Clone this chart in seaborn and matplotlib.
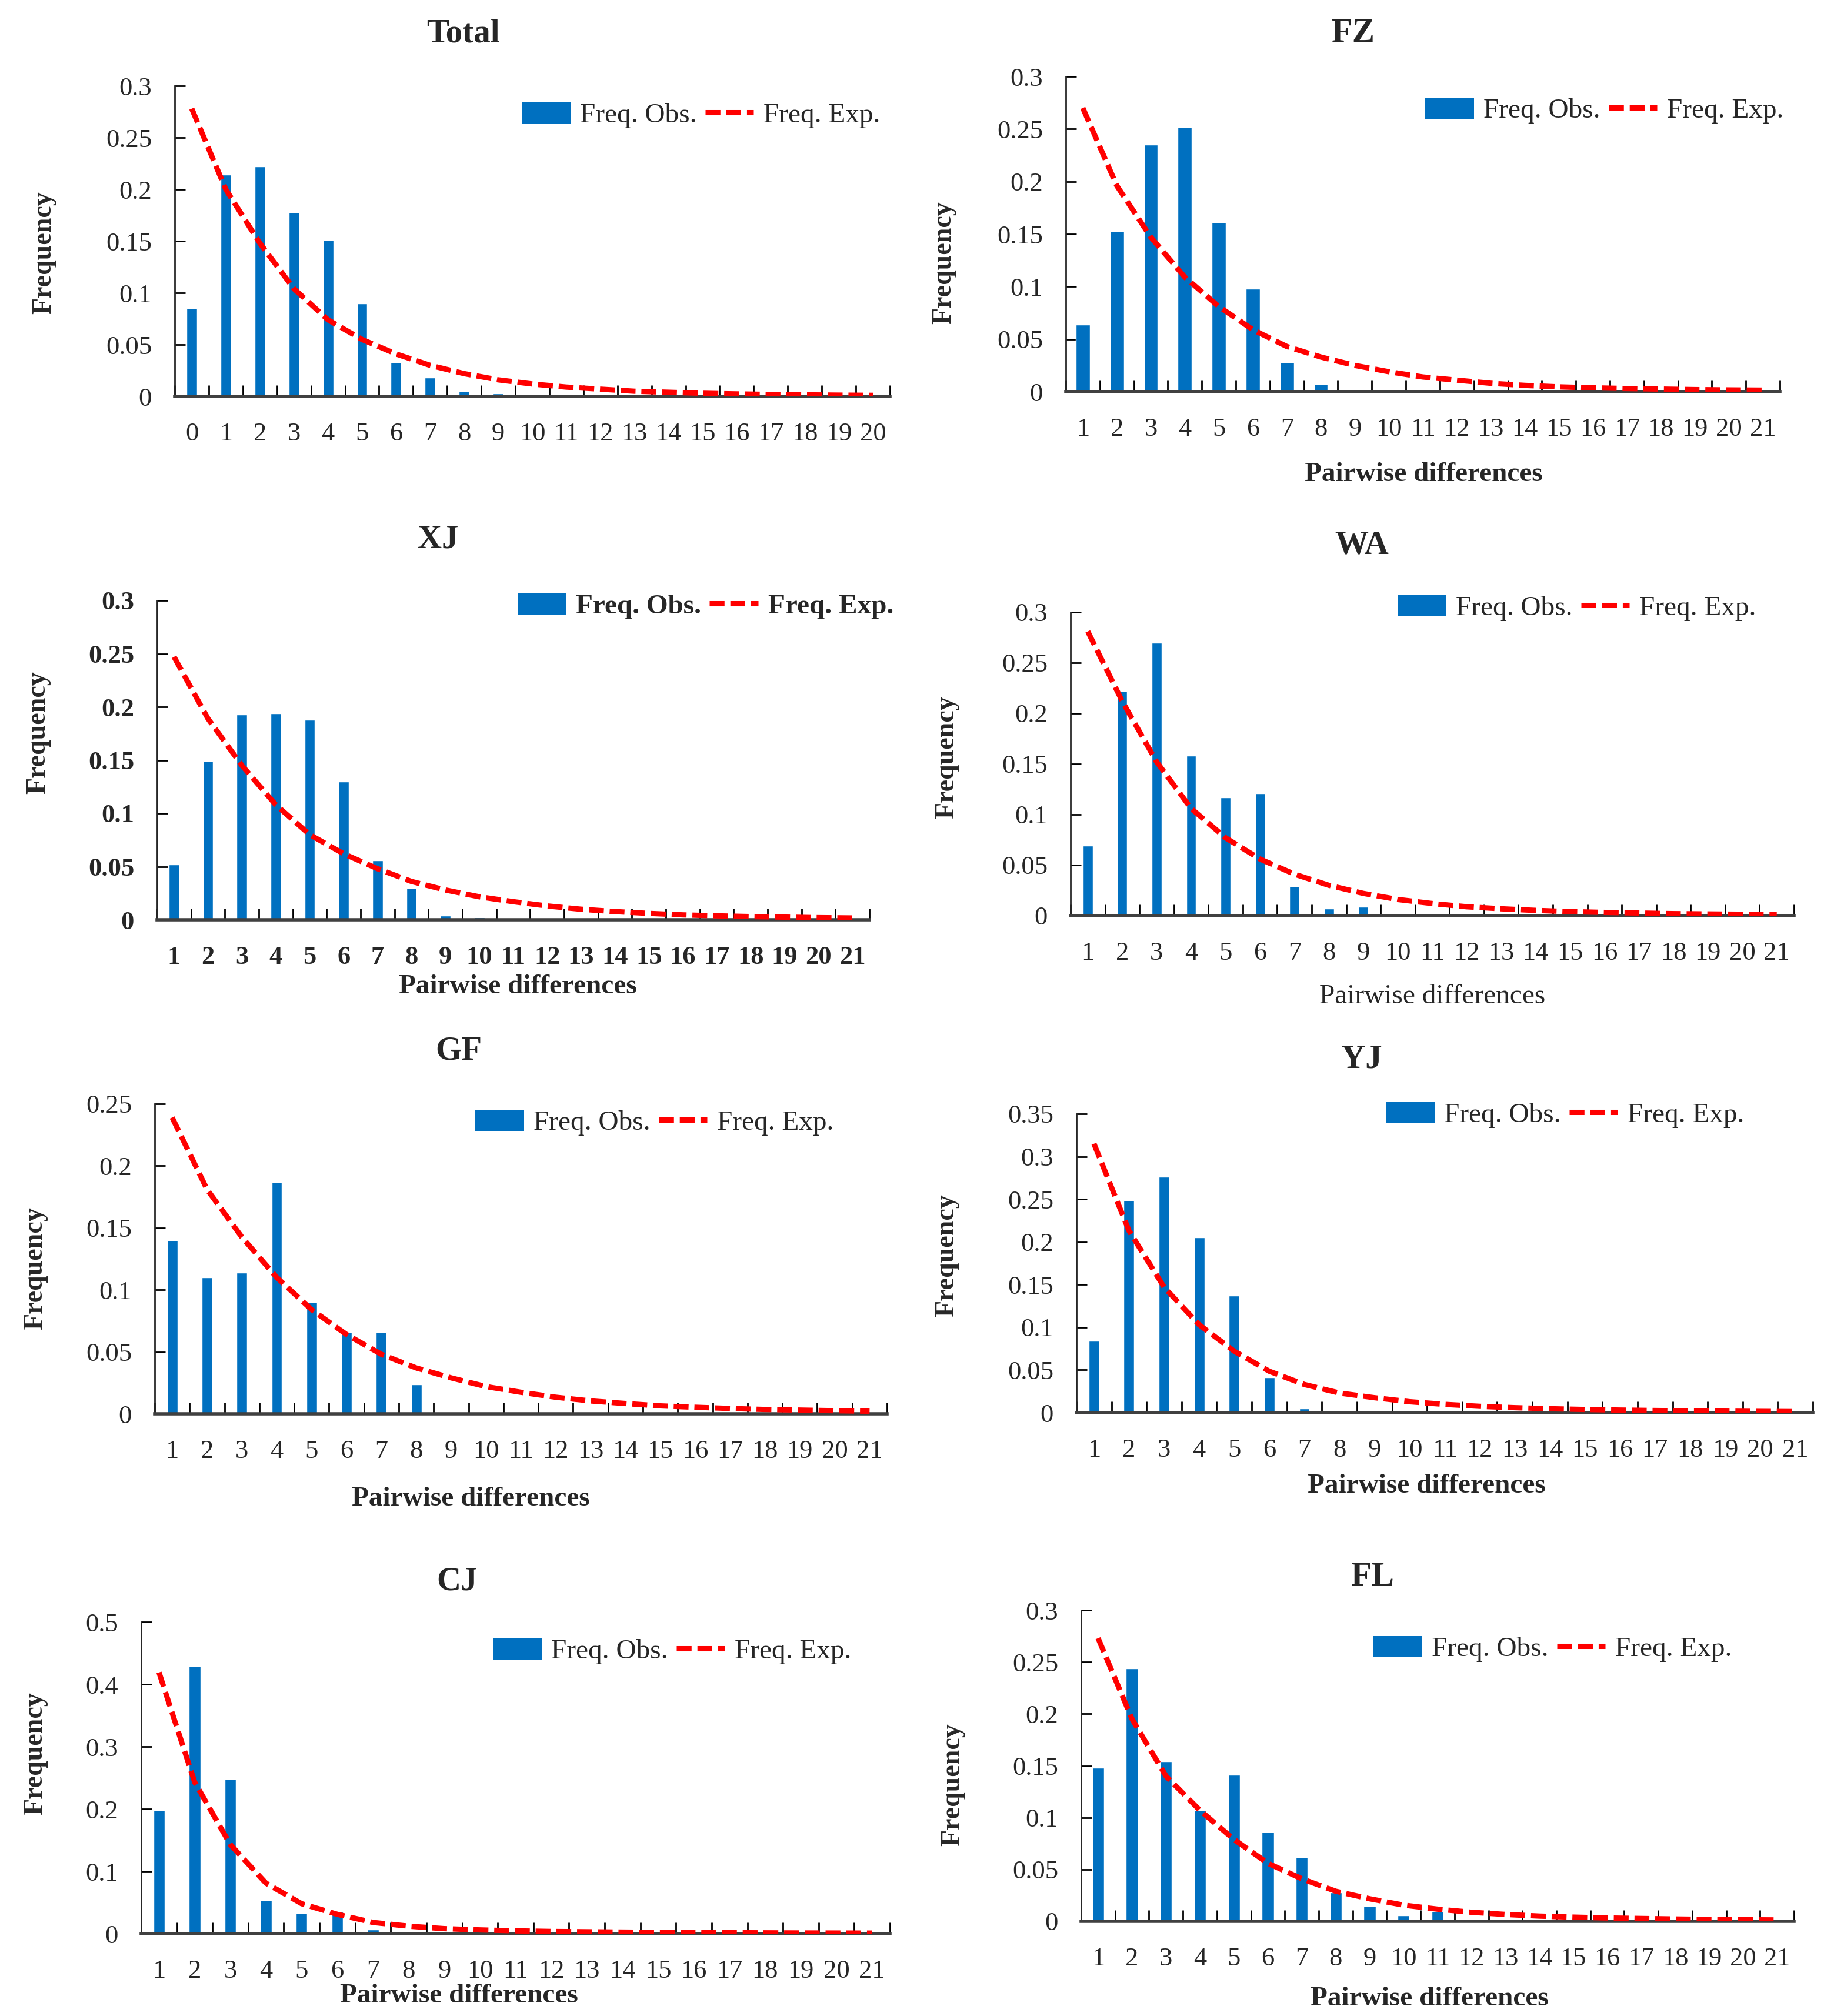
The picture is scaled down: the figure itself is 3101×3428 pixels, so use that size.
import numpy as np
import pandas as pd
import seaborn as sns
import matplotlib.pyplot as plt
from matplotlib.patches import Patch
from matplotlib.lines import Line2D
from matplotlib.ticker import FixedLocator, FuncFormatter

W, H = 3101, 3428
BLUE = "#0070C0"
RED = "#FF0000"

# ---- data ----
diffs_total = list(range(0, 21))
diffs_pop = list(range(1, 22))

obs_total = [0.085, 0.214, 0.222, 0.178, 0.151, 0.090, 0.033, 0.018, 0.005, 0.003, 0.0015,
             0, 0, 0, 0, 0, 0, 0, 0, 0, 0]
exp_total = [0.278, 0.200, 0.148, 0.104, 0.074, 0.055, 0.041, 0.030, 0.022, 0.016, 0.012,
             0.009, 0.007, 0.005, 0.004, 0.003, 0.0024, 0.0019, 0.0015, 0.0012, 0.0010]

obs_fz = [0.064, 0.153, 0.235, 0.252, 0.161, 0.098, 0.028, 0.0073, 0, 0, 0,
          0, 0, 0, 0, 0, 0, 0, 0, 0, 0]
exp_fz = [0.270, 0.196, 0.147, 0.109, 0.081, 0.059, 0.043, 0.033, 0.025, 0.019, 0.014,
          0.011, 0.008, 0.006, 0.0046, 0.0037, 0.0030, 0.0025, 0.0020, 0.0017, 0.0015]

obs_xj = [0.052, 0.149, 0.193, 0.194, 0.188, 0.130, 0.056, 0.030, 0.004, 0.002, 0,
          0, 0, 0, 0, 0, 0, 0, 0, 0, 0]
exp_xj = [0.247, 0.189, 0.145, 0.108, 0.080, 0.062, 0.048, 0.036, 0.028, 0.0216, 0.017,
          0.013, 0.0099, 0.0077, 0.006, 0.0046, 0.0037, 0.003, 0.0025, 0.002, 0.0017]

obs_wa = [0.069, 0.222, 0.270, 0.158, 0.117, 0.121, 0.029, 0.007, 0.009, 0, 0,
          0, 0, 0, 0, 0, 0, 0, 0, 0, 0]
exp_wa = [0.281, 0.212, 0.152, 0.106, 0.077, 0.056, 0.041, 0.030, 0.022, 0.016, 0.012,
          0.0088, 0.0068, 0.0052, 0.004, 0.0032, 0.0026, 0.002, 0.0017, 0.0014, 0.0012]

obs_gf = [0.140, 0.110, 0.114, 0.187, 0.090, 0.066, 0.066, 0.0235, 0, 0, 0,
          0, 0, 0, 0, 0, 0, 0, 0, 0, 0]
exp_gf = [0.239, 0.181, 0.1425, 0.110, 0.084, 0.064, 0.048, 0.037, 0.029, 0.022, 0.0174,
          0.0134, 0.0104, 0.0083, 0.0064, 0.0053, 0.0043, 0.0035, 0.003, 0.0025, 0.0021]

obs_yj = [0.084, 0.249, 0.276, 0.205, 0.137, 0.041, 0.005, 0, 0, 0, 0,
          0, 0, 0, 0, 0, 0, 0, 0, 0, 0]
exp_yj = [0.315, 0.213, 0.147, 0.103, 0.072, 0.0485, 0.033, 0.023, 0.0175, 0.0128, 0.0097,
          0.0074, 0.0058, 0.0046, 0.0037, 0.003, 0.0025, 0.002, 0.0017, 0.0014, 0.0012]

obs_cj = [0.198, 0.429, 0.248, 0.054, 0.033, 0.036, 0.0065, 0, 0, 0, 0,
          0, 0, 0, 0, 0, 0, 0, 0, 0, 0]
exp_cj = [0.419, 0.243, 0.143, 0.081, 0.048, 0.031, 0.018, 0.012, 0.008, 0.006, 0.0045,
          0.0035, 0.003, 0.0025, 0.002, 0.0018, 0.0015, 0.0013, 0.0011, 0.001, 0.0009]

obs_fl = [0.148, 0.244, 0.154, 0.107, 0.141, 0.086, 0.062, 0.028, 0.015, 0.0057, 0.0096,
          0, 0, 0, 0, 0, 0, 0, 0, 0, 0]
exp_fl = [0.273, 0.195, 0.140, 0.107, 0.079, 0.056, 0.041, 0.029, 0.0217, 0.0156, 0.0117,
          0.0087, 0.0066, 0.005, 0.004, 0.0032, 0.0027, 0.0022, 0.0018, 0.0015, 0.0013]

sns.set_style("white")
plt.rcParams["font.family"] = ["Liberation Serif", "DejaVu Serif"]

fig = plt.figure(figsize=(W / 100, H / 100), dpi=100)


def fx(px):
    return px / W


def fy(py):
    return 1 - py / H


def panel(name, diffs, obs, exp, ymax, ystep, box, title_xy, ylab_xy, xlab_xy, leg_xy,
          bar_w, bold_ticks=False, bold_xlab=True, bold_leg=False):
    left, top, right, bottom = box
    ax = fig.add_axes([fx(left), fy(bottom), (right - left) / W, (bottom - top) / H])
    df = pd.DataFrame({"diff": diffs, "obs": obs, "exp": exp})
    sns.barplot(data=df, x="diff", y="obs", native_scale=True, width=bar_w, color=BLUE,
                saturation=1, errorbar=None, ax=ax, zorder=2)
    sns.lineplot(data=df, x="diff", y="exp", color=RED, lw=6.5,
                 linestyle=(0, (2.8, 1.1)), ax=ax, zorder=3)

    ax.set_xlim(diffs[0] - 0.5, diffs[-1] + 0.5)
    ax.set_ylim(0, ymax)
    ax.xaxis.set_major_locator(FixedLocator(diffs))
    ax.set_xticklabels([str(d) for d in diffs])
    ax.xaxis.set_minor_locator(FixedLocator(np.arange(diffs[0] - 0.5, diffs[-1] + 1, 1)))
    ax.yaxis.set_major_locator(FixedLocator(np.arange(0, ymax + ystep / 2, ystep)))
    ax.yaxis.set_major_formatter(FuncFormatter(lambda v, p: f"{v:g}"))
    ax.tick_params(axis="x", which="major", length=0, pad=32, labelsize=32)
    ax.tick_params(axis="x", which="minor", direction="in", length=14, width=2,
                   color="black", bottom=True)
    ax.tick_params(axis="y", direction="in", length=13, width=2, pad=28, labelsize=32,
                   color="black", left=True)
    for s in ["top", "right"]:
        ax.spines[s].set_visible(False)
    ax.spines["left"].set_color("#262626")
    ax.spines["left"].set_linewidth(2)
    ax.spines["bottom"].set_color("#404040")
    ax.spines["bottom"].set_linewidth(4)
    ax.set_xlabel("")
    ax.set_ylabel("")
    if bold_ticks:
        for lab in ax.get_xticklabels() + ax.get_yticklabels():
            lab.set_fontweight("bold")

    fig.text(fx(title_xy[0]), fy(title_xy[1]), name, ha="center", va="center",
             fontsize=41, fontweight="bold")
    fig.text(fx(ylab_xy[0]), fy(ylab_xy[1]), "Frequency", rotation=90, ha="center",
             va="center", fontsize=33, fontweight="bold")
    if xlab_xy is not None:
        fig.text(fx(xlab_xy[0]), fy(xlab_xy[1]), "Pairwise differences", ha="center",
                 va="center", fontsize=34, fontweight="bold" if bold_xlab else "normal")

    handles = [Patch(facecolor=BLUE, edgecolor="none"),
               Line2D([], [], color=RED, lw=6.5, linestyle=(0, (2.8, 1.1)))]
    ax.legend(handles, ["Freq. Obs.", "Freq. Exp."], loc="center left",
              bbox_to_anchor=(fx(leg_xy[0]), fy(leg_xy[1])), bbox_transform=fig.transFigure,
              ncol=2, frameon=False, prop={"size": 34, "weight": "bold" if bold_leg else "normal"},
              handlelength=1.75, handleheight=0.8, handletextpad=0.35, columnspacing=0.3,
              borderpad=0, borderaxespad=0)
    return ax


panel("Total", diffs_total, obs_total, exp_total, 0.3, 0.05,
      (297, 146, 1513, 674), (787, 57), (75, 430), None, (887, 196), 0.31)
panel("FZ", diffs_pop, obs_fz, exp_fz, 0.3, 0.05,
      (1812, 130, 3026, 666), (2300, 57), (1605, 447), (2420, 807), (2423, 188), 0.41)
panel("XJ", diffs_pop, obs_xj, exp_xj, 0.3, 0.05,
      (267, 1021, 1478, 1564), (745, 917), (65, 1246), (880, 1678), (880, 1031), 0.31,
      bold_ticks=True, bold_leg=True)
panel("WA", diffs_pop, obs_wa, exp_wa, 0.3, 0.05,
      (1820, 1041, 3050, 1557), (2315, 928), (1610, 1288), (2435, 1695), (2376, 1034), 0.29,
      bold_xlab=False)
panel("GF", diffs_pop, obs_gf, exp_gf, 0.25, 0.05,
      (263, 1877, 1508, 2404), (780, 1788), (60, 2157), (800, 2549), (808, 1909), 0.30)
panel("YJ", diffs_pop, obs_yj, exp_yj, 0.35, 0.05,
      (1830, 1894, 3082, 2402), (2315, 1802), (1610, 2135), (2425, 2527), (2356, 1896), 0.30)
panel("CJ", diffs_pop, obs_cj, exp_cj, 0.5, 0.1,
      (240, 2758, 1513, 3288), (777, 2690), (60, 2982), (780, 3394), (838, 2808), 0.32)
panel("FL", diffs_pop, obs_fl, exp_fl, 0.3, 0.05,
      (1838, 2738, 3050, 3267), (2333, 2682), (1620, 3035), (2430, 3399), (2335, 2804), 0.35)

fig.savefig("out.png", dpi=100, facecolor="white")
